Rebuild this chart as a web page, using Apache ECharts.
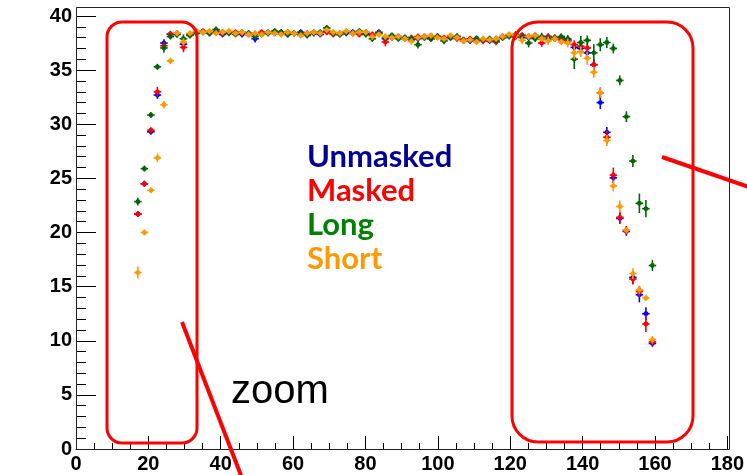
<!DOCTYPE html>
<html><head><meta charset="utf-8">
<script src="https://cdn.jsdelivr.net/npm/echarts@6/dist/echarts.min.js"></script>
<style>html,body{margin:0;padding:0;background:#fff}#c{width:747px;height:475px}</style>
</head><body><div id="c"></div>
<script>
// bin centres (bin width 1.8)
const binCenters = [17.1,18.9,20.7,22.5,24.3,26.1,27.9,29.7,31.5,33.3,
35.1,36.9,38.7,40.5,42.3,44.1,45.9,47.7,49.5,51.3,
53.1,54.9,56.7,58.5,60.3,62.1,63.9,65.7,67.5,69.3,
71.1,72.9,74.7,76.5,78.3,80.1,81.9,83.7,85.5,87.3,
89.1,90.9,92.7,94.5,96.3,98.1,99.9,101.7,103.5,105.3,
107.1,108.9,110.7,112.5,114.3,116.1,117.9,119.7,121.5,123.3,
125.1,126.9,128.7,130.5,132.3,134.1,135.9,137.7,139.5,141.3,
143.1,144.9,146.7,148.5,150.3,152.1,153.9,155.7,157.5,159.3];
const binHalfWidth = 0.9;

const unmasked = [21.7,24.5,29.3,32.7,37.5,38.3,38.3,37.4,38.3,38.5,
38.5,38.4,38.6,38.3,38.5,38.4,38.3,38.4,37.9,38.4,
38.5,38.4,38.5,38.3,38.4,38.5,38.3,38.4,38.3,38.6,
38.4,38.3,38.4,38.5,38.4,38.4,38.2,38.5,37.9,38.0,
38.1,38.0,37.8,37.9,38.1,38.0,38.1,37.9,38.0,38.1,
37.8,37.7,37.9,37.8,37.7,37.9,38.1,38.2,38.1,38.2,
38.0,38.2,37.9,38.1,37.9,38.0,37.8,37.1,37.0,36.6,
35.5,32.0,29.25,25.05,21.3,20.1,15.85,14.25,12.5,9.75];
const unmaskedErr = [0.2,0.2,0.25,0.35,0.35,0.2,0.2,0.3,0.2,0.2,
0.2,0.2,0.2,0.2,0.2,0.2,0.2,0.2,0.35,0.2,
0.2,0.2,0.2,0.2,0.2,0.2,0.2,0.2,0.2,0.2,
0.2,0.2,0.2,0.2,0.2,0.2,0.2,0.2,0.3,0.2,
0.2,0.2,0.2,0.2,0.2,0.2,0.2,0.2,0.2,0.2,
0.25,0.25,0.25,0.25,0.25,0.25,0.25,0.25,0.25,0.25,
0.25,0.25,0.3,0.25,0.3,0.3,0.3,0.4,0.4,0.5,
0.5,0.6,0.5,0.5,0.5,0.4,0.6,0.7,0.6,0.3];

const masked = [21.7,24.5,29.45,33.0,37.25,38.35,38.4,37.1,38.3,38.5,
38.6,38.5,38.5,38.4,38.5,38.5,38.4,38.3,38.3,38.5,
38.4,38.5,38.4,38.5,38.4,38.3,38.4,38.5,38.4,38.5,
38.3,38.4,38.5,38.4,38.3,38.5,38.3,38.4,37.6,38.1,
38.0,37.9,38.0,38.1,38.0,37.9,38.1,38.0,38.1,37.9,
37.8,37.9,37.8,37.7,37.8,37.6,38.0,38.2,38.1,38.2,
38.1,38.0,37.5,38.1,38.0,37.8,37.7,37.35,37.2,37.05,
35.5,32.9,28.8,25.3,21.4,20.2,15.7,14.55,11.55,9.9];
const maskedErr = [0.2,0.2,0.25,0.45,0.35,0.2,0.2,0.45,0.2,0.2,
0.2,0.2,0.2,0.2,0.2,0.2,0.2,0.2,0.2,0.2,
0.2,0.2,0.2,0.2,0.2,0.2,0.2,0.2,0.2,0.2,
0.2,0.2,0.2,0.2,0.2,0.2,0.2,0.2,0.4,0.2,
0.2,0.2,0.2,0.2,0.2,0.2,0.2,0.2,0.2,0.2,
0.25,0.25,0.25,0.3,0.25,0.3,0.25,0.25,0.25,0.25,
0.25,0.25,0.35,0.25,0.3,0.3,0.3,0.4,0.45,0.5,
0.5,0.5,0.6,0.7,0.6,0.4,0.5,0.5,0.75,0.3];

const longW = [22.85,25.9,30.85,35.3,37.05,38.1,38.3,37.9,38.2,38.4,
38.5,38.4,38.75,38.5,38.4,38.3,38.5,38.4,38.1,38.3,
38.4,38.6,38.5,38.3,38.4,38.4,38.2,38.4,38.5,38.9,
38.4,38.3,38.5,38.4,38.6,38.3,37.9,38.4,38.0,38.2,
37.9,38.0,37.9,37.35,38.0,37.9,38.1,37.7,38.0,38.1,
37.7,37.8,37.9,37.8,37.9,37.7,38.0,38.1,38.3,38.0,
37.5,37.9,38.1,37.9,38.0,38.1,37.9,36.0,37.55,37.75,
36.6,37.35,37.55,37.0,34.05,30.7,26.6,22.7,22.2,16.95];
const longErr = [0.35,0.2,0.2,0.2,0.45,0.2,0.2,0.4,0.2,0.2,
0.2,0.2,0.25,0.2,0.2,0.2,0.2,0.2,0.3,0.2,
0.2,0.2,0.2,0.2,0.2,0.2,0.2,0.2,0.2,0.25,
0.2,0.2,0.2,0.2,0.2,0.2,0.3,0.2,0.25,0.2,
0.25,0.2,0.25,0.35,0.2,0.25,0.2,0.3,0.2,0.2,
0.3,0.25,0.25,0.25,0.25,0.3,0.25,0.25,0.3,0.3,
0.4,0.3,0.35,0.35,0.3,0.3,0.35,0.9,0.6,0.45,
0.8,0.6,0.5,0.45,0.45,0.5,0.55,0.9,0.8,0.5];

const shortW = [16.3,20.0,23.9,26.9,31.8,35.85,38.4,37.6,38.4,38.6,
38.5,38.6,38.4,38.5,38.6,38.4,38.5,38.3,38.4,38.3,
38.5,38.4,38.3,38.5,38.4,38.2,38.4,38.5,38.4,38.7,
38.5,38.4,38.6,38.4,38.5,38.5,38.1,38.3,38.1,38.0,
38.1,37.9,37.65,38.0,38.1,38.2,38.0,37.9,38.2,38.0,
37.7,37.8,37.6,37.9,37.8,37.9,38.1,38.3,38.2,37.75,
38.1,38.2,37.9,37.7,37.9,37.6,37.5,36.6,36.7,36.1,
34.8,32.9,28.5,24.3,22.4,20.2,16.2,14.7,13.95,10.1];
const shortErr = [0.55,0.25,0.25,0.4,0.35,0.3,0.2,0.35,0.2,0.2,
0.2,0.2,0.2,0.2,0.2,0.2,0.2,0.2,0.2,0.2,
0.2,0.2,0.2,0.2,0.2,0.2,0.2,0.2,0.2,0.2,
0.2,0.2,0.2,0.2,0.2,0.2,0.3,0.2,0.3,0.2,
0.2,0.2,0.3,0.2,0.2,0.2,0.2,0.2,0.2,0.2,
0.25,0.25,0.25,0.25,0.25,0.25,0.25,0.25,0.25,0.35,
0.3,0.3,0.3,0.4,0.3,0.3,0.4,0.6,0.5,0.6,
0.5,0.45,0.5,0.5,0.55,0.3,0.5,0.4,0.2,0.35];

const seriesNames = ['Unmasked','Masked','Long','Short'];
const markerColors = ['#0000ff','#ff0000','#006600','#ff9900'];
const textColors = ['#000099','#ff0000','#008000','#ff9900'];
const seriesValues = [unmasked, masked, longW, shortW];
const seriesErrors = [unmaskedErr, maskedErr, longErr, shortErr];

const chart = echarts.init(document.getElementById('c'), null, {renderer:'canvas'});

function makeRender(color){
  return function(params, api){
    const x = api.value(0), y = api.value(1), e = api.value(2);
    const c = api.coord([x, y]);
    const l = api.coord([x - binHalfWidth, y]);
    const r = api.coord([x + binHalfWidth, y]);
    const t = api.coord([x, y + e]);
    const b = api.coord([x, y - e]);
    return {type:'group', children:[
      {type:'line', shape:{x1:l[0] - 0.5, y1:c[1], x2:r[0] + 0.5, y2:c[1]}, style:{stroke:color, lineWidth:1.6}},
      {type:'line', shape:{x1:c[0], y1:Math.min(t[1], c[1] - 3), x2:c[0], y2:Math.max(b[1], c[1] + 3)}, style:{stroke:color, lineWidth:1.6}},
      {type:'circle', shape:{cx:c[0], cy:c[1], r:2.4}, style:{fill:color}}
    ]};
  };
}

const series = seriesNames.map((name, i) => ({
  type:'custom', name: name,
  renderItem: makeRender(markerColors[i]),
  data: binCenters.map((x, j) => [x, seriesValues[i][j], seriesErrors[i][j]]),
  encode:{x:0, y:1},
  z: 2 + i
}));

const labelFont = {color:'#000', fontFamily:'Liberation Sans, Arial, sans-serif', fontWeight:'bold', fontSize:20};

const legendTops = [141, 175, 209, 243];
const graphics = [
  {type:'rect', shape:{x:76.5, y:7.5, width:653, height:442}, style:{fill:null, stroke:'#222', lineWidth:1}, z:1},
  {type:'rect', shape:{x:107, y:22, width:90, height:421, r:15}, style:{fill:null, stroke:'#ff0000', lineWidth:3}, z:10},
  {type:'rect', shape:{x:512, y:22, width:181, height:420, r:26}, style:{fill:null, stroke:'#ff0000', lineWidth:3}, z:10},
  {type:'line', shape:{x1:182, y1:322, x2:242, y2:478}, style:{stroke:'#ff0000', lineWidth:4}, z:10},
  {type:'line', shape:{x1:662, y1:157, x2:752, y2:188}, style:{stroke:'#ff0000', lineWidth:4}, z:10},
  {type:'text', x:231, y:372, style:{text:'zoom', fill:'#000', font:'40px "Liberation Sans", Arial, sans-serif', verticalAlign:'top'}, z:10}
];
seriesNames.forEach((n, i) => {
  graphics.push({type:'text', x:307, y:legendTops[i], style:{text:n, fill:textColors[i], font:'bold 31px Lato, "Open Sans", sans-serif', verticalAlign:'top'}, z:10});
});

chart.setOption({
  animation:false,
  backgroundColor:'#fff',
  grid:{left:76, right:17, top:16, bottom:26, containLabel:false},
  xAxis:{type:'value', min:0, max:180, interval:20,
    axisLine:{show:true, lineStyle:{color:'#000', width:1}},
    axisTick:{show:true, inside:true, length:13, lineStyle:{color:'#000', width:1}},
    minorTick:{show:true, splitNumber:4, length:6, lineStyle:{color:'#000', width:1}},
    axisLabel:Object.assign({margin:5}, labelFont),
    splitLine:{show:false}},
  yAxis:{type:'value', min:0, max:40, interval:5,
    axisLine:{show:true, lineStyle:{color:'#000', width:1}},
    axisTick:{show:true, inside:true, length:20, lineStyle:{color:'#000', width:1}},
    minorTick:{show:true, splitNumber:5, length:10, lineStyle:{color:'#000', width:1}},
    axisLabel:Object.assign({margin:4}, labelFont),
    splitLine:{show:false}},
  series: series,
  graphic: graphics
});
</script></body></html>
